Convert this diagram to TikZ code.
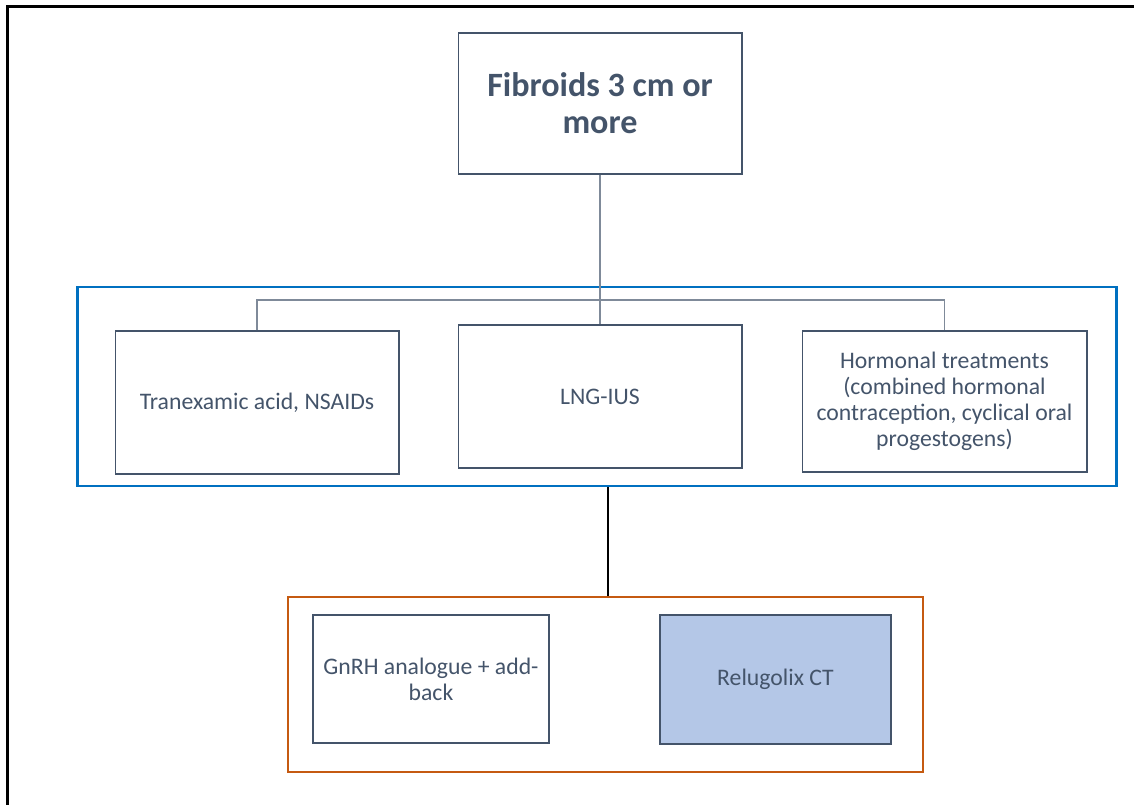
\documentclass[tikz,border=0pt]{standalone}
\usepackage{fontspec}
\setmainfont{Carlito}
\definecolor{slate}{HTML}{44546A}
\definecolor{linkgrey}{HTML}{7F8A99}
\definecolor{tierblue}{HTML}{0070C0}
\definecolor{tierorange}{HTML}{C55A11}
\definecolor{paleblue}{HTML}{B4C7E7}

\begin{document}
\begin{tikzpicture}[x=0.02cm, y=-0.02cm,
    box/.style={rectangle, draw=slate, line width=0.6pt, text=slate,
      font=\fontsize{13.5}{14.8}\selectfont, align=center, inner sep=0pt},
    tier/.style={rectangle, line width=1.6pt, inner sep=0pt},
    link/.style={draw=linkgrey, line width=0.6pt}
    ]
    \useasboundingbox (0,0) rectangle (1134,805);
    \draw[line width=1.5pt] (1134,6.5) -- (7.5,6.5) -- (7.5,805);

    % frames
    \node[tier, draw=tierblue, minimum width=20.8cm, minimum height=3.98cm] (tier1) at (597,386.5) {};
    \node[tier, draw=tierorange, minimum width=12.7cm, minimum height=3.5cm] (tier2) at (605.5,684.5) {};

    \node[box, minimum width=5.68cm, minimum height=2.82cm,
      font=\bfseries\fontsize{19.4}{21}\selectfont] (top) at (600,103.5) {Fibroids 3 cm or\\more};
    \node[box, minimum width=5.68cm, minimum height=2.86cm] (tranex) at (257,402.5) {Tranexamic acid, NSAIDs};
    \node[box, minimum width=5.68cm, minimum height=2.86cm] (lng) at (600,396.5) {LNG-IUS};
    \node[box, minimum width=5.7cm, minimum height=2.82cm] (hormonal) at (944.5,401.5)
      {Hormonal treatments\\(combined hormonal\\contraception, cyclical oral\\progestogens)};
    \node[box, minimum width=4.72cm, minimum height=2.56cm] (gnrh) at (431,679) {GnRH analogue + add-\\back};
    \node[box, fill=paleblue, minimum width=4.62cm, minimum height=2.58cm] (relugolix) at (775.5,679.5) {Relugolix CT};

    % connectors
    \coordinate (bar) at (600,300);
    \coordinate (drop) at (608,0);
    \draw[link] (top.south) -- (lng.north);
    \draw[link] (tranex.north) |- (bar) -| (hormonal.north);
    \draw[line width=0.8pt] (tier1.south -| drop) -- (tier2.north -| drop);
  \end{tikzpicture}
\end{document}
